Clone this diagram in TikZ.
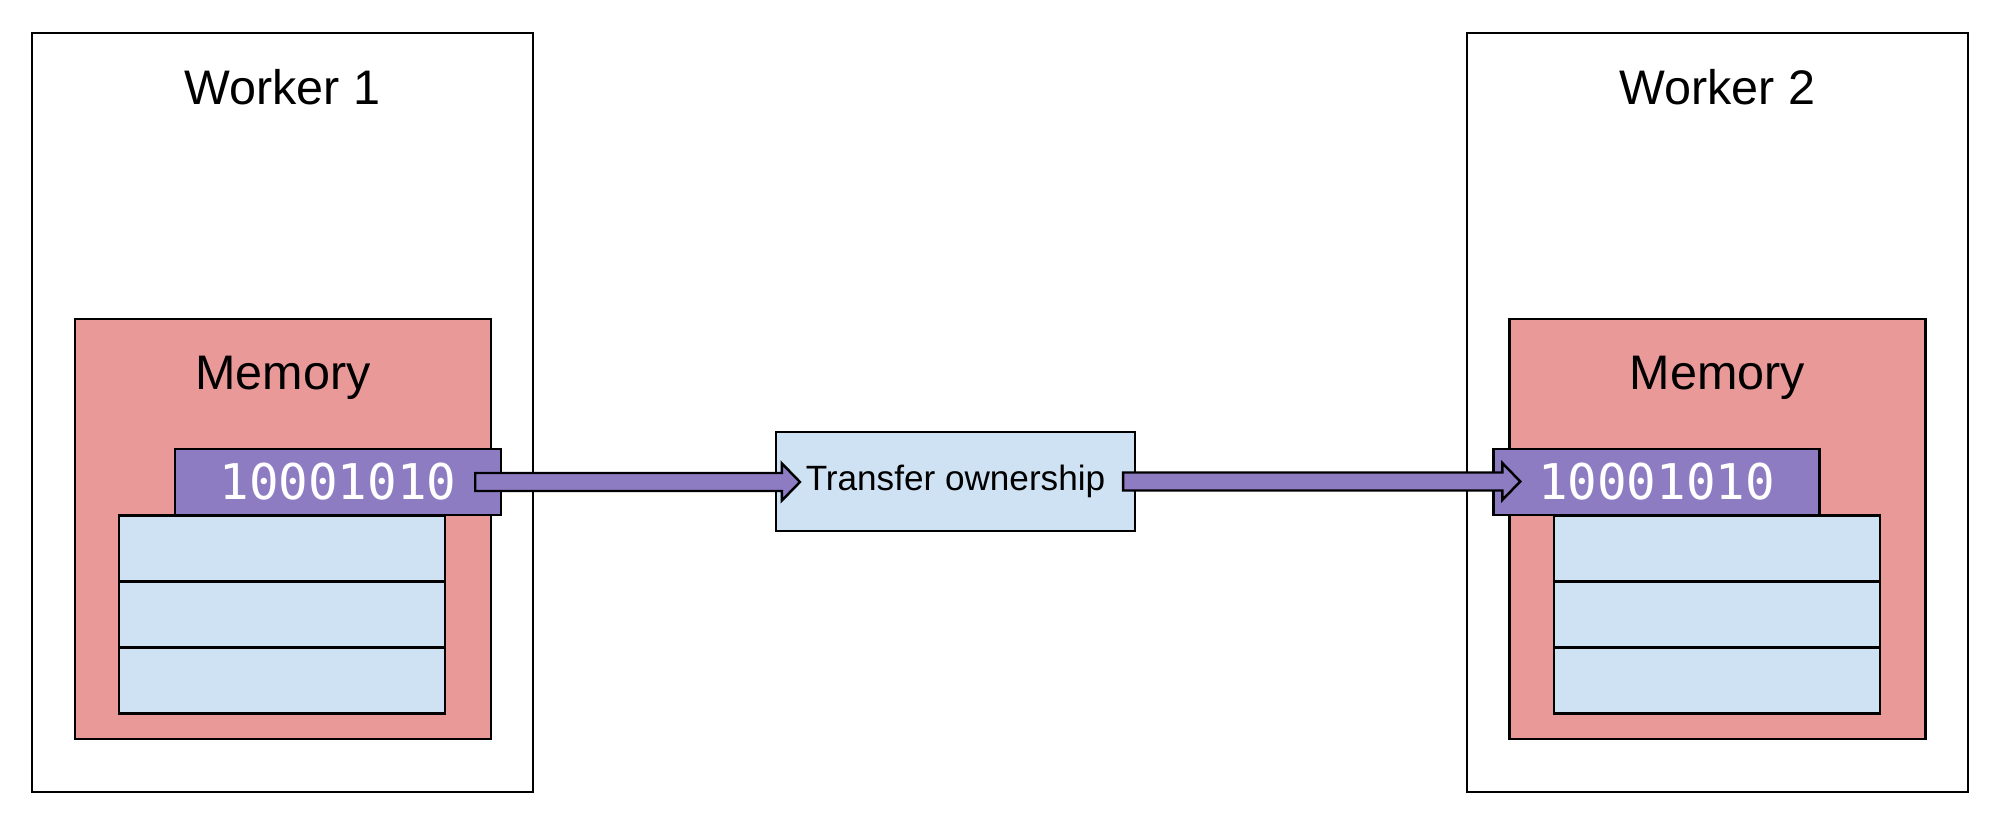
\documentclass[tikz,border=0pt]{standalone}
\usepackage{fontspec}
\setmainfont{Liberation Sans}
\newfontfamily\bitsfont{DejaVu Sans Mono}
\usetikzlibrary{positioning,calc}

\definecolor{memred}{HTML}{EA9999}
\definecolor{bitpurple}{HTML}{8E7CC3}
\definecolor{slotblue}{HTML}{CFE2F3}

% block arrow from #1 to the tip #2
\newcommand{\blockarrow}[2]{%
  \draw[flow] let \p1=(#1), \p2=(#2) in
    (\x1,\y1+0.09cm) -- (\x2-0.18cm,\y1+0.09cm) -- (\x2-0.18cm,\y1+0.185cm)
    -- (\x2,\y1) -- (\x2-0.18cm,\y1-0.185cm) -- (\x2-0.18cm,\y1-0.09cm)
    -- (\x1,\y1-0.09cm) -- cycle;}

\begin{document}
\begin{tikzpicture}[
  worker/.style={draw,line width=0.6pt,minimum width=5.01cm,minimum height=7.59cm},
  memory/.style={draw,fill=memred,line width=0.7pt,minimum width=4.16cm,minimum height=4.2cm},
  slot/.style={draw,fill=slotblue,line width=0.7pt,minimum width=3.26cm,minimum height=0.66cm},
  bits/.style={draw,fill=bitpurple,line width=0.7pt,inner sep=0pt,text=white,
    font=\bitsfont\fontsize{14}{16}\selectfont,minimum width=3.26cm,minimum height=0.66cm},
  xfer/.style={draw,fill=slotblue,line width=0.6pt,minimum width=3.59cm,minimum height=0.99cm,
    font=\fontsize{10}{12}\selectfont},
  title/.style={font=\fontsize{13.8}{16}\selectfont,anchor=base},
  flow/.style={draw,fill=bitpurple,line width=0.7pt,line join=miter}]
\useasboundingbox (0,0) rectangle (20,8.29);

%Draw the two workers
  \node[worker] (worker1) at (2.825,4.165) {};
  \node[worker] (worker2) at (17.175,4.165) {};
  \node[title] (wlabel1) at (2.825,7.24) {Worker 1};
  \node[title] (wlabel2) at (17.175,7.24) {Worker 2};

  \node[memory] (mem1) at (2.83,3.0) {};
  \node[memory] (mem2) at (17.175,3.0) {};
  \node[title] (mlabel1) at (2.83,4.39) {Memory};
  \node[title] (mlabel2) at (17.175,4.39) {Memory};

  \foreach \i in {1,2,3} {
    \node[slot] (slotA\i) at (2.82,{2.805-(\i-1)*0.66}) {};
    \node[slot] (slotB\i) at (17.17,{2.805-(\i-1)*0.66}) {};
  }

  \node[bits] (bits1) at (3.38,3.47) {10001010};
  \node[bits] (bits2) at (16.565,3.47) {10001010};

  \node[xfer] (xfer) at (9.555,3.475) {Transfer ownership};

%Arrows
  \coordinate (from1) at ([xshift=-0.27cm]bits1.east);
  \coordinate (tip1) at ([xshift=0.25cm]xfer.west);
  \coordinate (from2) at ([xshift=-0.13cm]xfer.east);
  \coordinate (tip2) at ([xshift=0.28cm]bits2.west);
  \blockarrow{from1}{tip1}
  \blockarrow{from2}{tip2}
\end{tikzpicture}
\end{document}
